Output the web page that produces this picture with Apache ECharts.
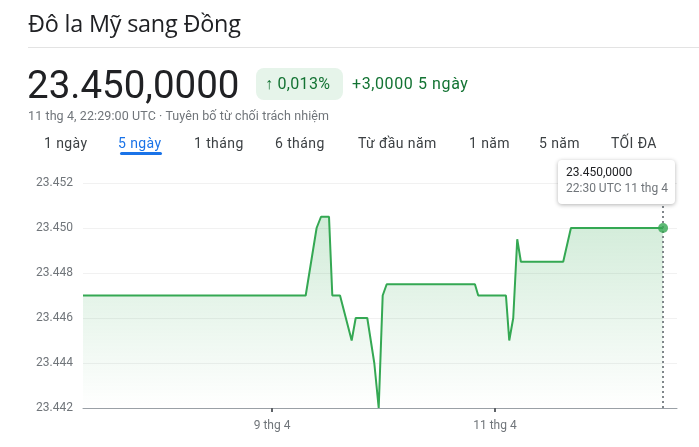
<!DOCTYPE html>
<html>
<head>
<meta charset="utf-8">
<script src="https://cdn.jsdelivr.net/npm/echarts@6/dist/echarts.min.js"></script>
<style>
  html, body { margin: 0; padding: 0; background: #fff; }
  #wrap { position: relative; width: 699px; height: 447px; overflow: hidden; font-family: Roboto, Arial, sans-serif; }
  #chart { position: absolute; left: 0; top: 0; width: 699px; height: 447px; }
  .t { position: absolute; white-space: nowrap; }
  #title { left: 28px; top: 7px; font-size: 23.4px; color: #202124; font-family: "Open Sans", Roboto, sans-serif; letter-spacing: -0.2px; }
  #divider { position: absolute; left: 28px; right: 0; top: 47px; height: 1px; background: #e3e3e3; }
  #price { left: 27px; top: 62px; font-size: 38.5px; color: #202124; font-family: Roboto, sans-serif; }
  #badge { position: absolute; left: 256px; top: 68px; width: 87px; height: 32px; background: #e6f4ea; border-radius: 8px; }
  #badgeTxt { left: 265px; top: 74px; font-size: 16px; color: #137333; font-family: Roboto, sans-serif; letter-spacing: 0.3px; }
  #badgeTxt b { font-weight: 700; }
  #change { left: 352px; top: 74px; font-size: 16px; color: #137333; font-family: Roboto, sans-serif; letter-spacing: 0.6px; }
  #sub { left: 28px; top: 108px; font-size: 12.5px; color: #70757a; letter-spacing: 0.1px; }
  .tab { top: 135px; font-size: 14px; color: #3c4043; font-family: Roboto, sans-serif; letter-spacing: 0.4px; }
  #uline { position: absolute; left: 120px; top: 152px; width: 42px; height: 3px; background: #1a73e8; border-radius: 2px; }
</style>
</head>
<body>
<div id="wrap">
  <div id="chart"></div>
  <div class="t" id="title">Đô la Mỹ sang Đồng</div>
  <div id="divider"></div>
  <div class="t" id="price">23.450,0000</div>
  <div id="badge"></div>
  <div class="t" id="badgeTxt"><b>↑</b> 0,013%</div>
  <div class="t" id="change">+3,0000 5 ngày</div>
  <div class="t" id="sub">11 thg 4, 22:29:00 UTC · Tuyên bố từ chối trách nhiệm</div>
  <div class="t tab" style="left:44px">1 ngày</div>
  <div class="t tab" style="left:118px;color:#1a73e8">5 ngày</div>
  <div class="t tab" style="left:194px">1 tháng</div>
  <div class="t tab" style="left:275px">6 tháng</div>
  <div class="t tab" style="left:358px">Từ đầu năm</div>
  <div class="t tab" style="left:469px">1 năm</div>
  <div class="t tab" style="left:539px">5 năm</div>
  <div class="t tab" style="left:611px">TỐI ĐA</div>
  <div id="uline"></div>
</div>
<script>
// Time (hours on the chart's compressed 5-day timeline; 9 thg 4 = 48, 11 thg 4 = 96)
const xHours = [7.3, 55.25, 57.6, 58.55, 60.27, 60.98, 62.64, 65.15, 66.02, 68.51, 70.02, 70.97, 71.83, 72.69, 91.69, 92.4, 98.37, 99.08, 99.94, 100.8, 101.59, 110.7, 112.36, 132.2];
// USD -> VND rate
const rates = [23.447, 23.447, 23.450, 23.4505, 23.4505, 23.447, 23.447, 23.445, 23.446, 23.446, 23.444, 23.442, 23.447, 23.4475, 23.4475, 23.447, 23.447, 23.445, 23.446, 23.4495, 23.4485, 23.4485, 23.450, 23.450];
const xTickValues = [48, 96];
const xTickLabels = ['9 thg 4', '11 thg 4'];
const yMin = 23.442, yMax = 23.452, yStep = 0.002;
const tipValue = '23.450,0000';
const tipTime = '22:30 UTC 11 thg 4';

const seriesData = xHours.map((x, i) => [x, rates[i]]);
const last = seriesData[seriesData.length - 1];
const green = '#34a853';

const chart = echarts.init(document.getElementById('chart'));
chart.setOption({
  animation: false,
  grid: { left: 83, right: 22, top: 183, bottom: 39 },
  xAxis: {
    type: 'value',
    min: 7.3,
    max: 135.2,
    splitLine: { show: false },
    axisLine: { lineStyle: { color: '#9aa0a6', width: 1 } },
    axisTick: { show: true, customValues: xTickValues, length: 4, lineStyle: { color: '#5f6368', width: 2 } },
    axisLabel: {
      customValues: xTickValues,
      formatter: v => xTickLabels[xTickValues.indexOf(v)] || '',
      color: '#70757a', fontSize: 12, fontFamily: 'Roboto', margin: 12
    }
  },
  yAxis: {
    type: 'value',
    min: yMin, max: yMax, interval: yStep,
    axisLine: { show: false },
    axisTick: { show: false },
    splitLine: { lineStyle: { color: '#f1f1f1', width: 1 } },
    axisLabel: {
      formatter: v => v.toFixed(3),
      color: '#70757a', fontSize: 12, fontFamily: 'Roboto', margin: 10
    }
  },
  series: [
    {
      type: 'line',
      data: seriesData,
      symbol: 'none',
      lineStyle: { color: green, width: 2 },
      areaStyle: {
        color: new echarts.graphic.LinearGradient(0, 0, 0, 1, [
          { offset: 0, color: 'rgba(52,168,83,0.32)' },
          { offset: 1, color: 'rgba(52,168,83,0.0)' }
        ])
      },
      markLine: {
        silent: true,
        symbol: 'none',
        label: { show: false },
        lineStyle: { color: '#80868b', type: [2, 3], width: 2 },
        data: [{ xAxis: last[0] }]
      }
    },
    {
      type: 'scatter',
      data: [last],
      symbolSize: 10,
      itemStyle: { color: green },
      z: 5
    }
  ],
  graphic: [
    { type: 'rect', left: 558, top: 160, z: 100, zlevel: 1,
      shape: { width: 117, height: 44, r: 4 },
      style: { fill: '#fff', shadowBlur: 4, shadowColor: 'rgba(0,0,0,0.3)', shadowOffsetY: 1 } },
    { type: 'text', left: 566, top: 167, z: 101, zlevel: 1,
      style: { text: tipValue, fill: '#202124', font: '12px Roboto' } },
    { type: 'text', left: 566, top: 183, z: 101, zlevel: 1,
      style: { text: tipTime, fill: '#70757a', font: '12px Roboto' } }
  ]
});
</script>
</body>
</html>
